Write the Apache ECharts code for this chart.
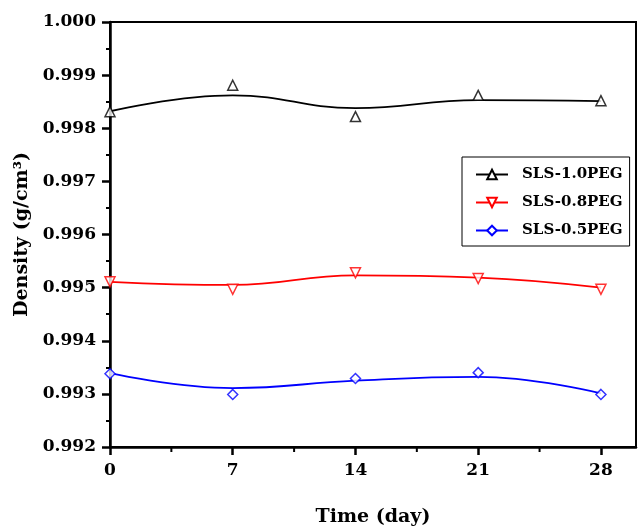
<!DOCTYPE html>
<html>
<head>
<meta charset="utf-8">
<script src="https://cdn.jsdelivr.net/npm/echarts@6/dist/echarts.min.js"></script>
<style>html,body{margin:0;padding:0;background:#fff}#c{width:638px;height:529px}</style>
</head>
<body>
<div id="c"></div>
<script>
// Sampling times (day)
const days = [0, 7, 14, 21, 28];
const xTicks = [0, 7, 14, 21, 28];
const xMinorTicks = [3.5, 10.5, 17.5, 24.5];
const seriesNames = ['SLS-1.0PEG', 'SLS-0.8PEG', 'SLS-0.5PEG'];
// Measured densities (markers)
const pts10 = [0.99831, 0.99881, 0.99822, 0.99862, 0.99852];
const pts08 = [0.99511, 0.99497, 0.99528, 0.99517, 0.99497];
const pts05 = [0.99338, 0.99299, 0.99329, 0.99340, 0.99299];
// Smoothed fit curve values read at the same days
const fit10 = [0.99832, 0.99862, 0.99838, 0.99853, 0.99851];
const fit08 = [0.99511, 0.99505, 0.99523, 0.99519, 0.99500];
const fit05 = [0.99339, 0.99311, 0.99325, 0.99332, 0.99301];

const FONT = 'DejaVu Serif';
const downTri = 'path://M0,0 L10,0 L5,9 Z';
const upTri = 'path://M5,0 L10,9 L0,9 Z';
const pair = (xs, ys) => xs.map((x, i) => [x, ys[i]]);

const defs = [
  {name: seriesNames[0], color: '#000000', fit: fit10, pts: pts10, symbol: upTri},
  {name: seriesNames[1], color: '#ff0000', fit: fit08, pts: pts08, symbol: downTri},
  {name: seriesNames[2], color: '#0000ff', fit: fit05, pts: pts05, symbol: 'diamond'}
];

const series = [];
defs.forEach(d => {
  series.push({
    name: d.name, type: 'line', smooth: 0.45, data: pair(days, d.fit),
    symbol: d.symbol, showSymbol: false, symbolSize: 10,
    lineStyle: {color: d.color, width: 1.8},
    itemStyle: {color: '#fff', borderColor: d.color, borderWidth: 1.5},
    emphasis: {disabled: true}, z: 2
  });
  series.push({
    name: d.name + ' pts', type: 'scatter', data: pair(days, d.pts),
    symbol: d.symbol, symbolSize: 10,
    itemStyle: {color: '#fff', borderColor: d.color, borderWidth: 1.5},
    emphasis: {disabled: true}, z: 3
  });
});

const chart = echarts.init(document.getElementById('c'), null, {renderer: 'canvas'});
chart.setOption({
  animation: false,
  backgroundColor: '#fff',
  grid: {left: 110, right: 2, top: 22, bottom: 82, show: true, borderColor: '#000', borderWidth: 2,
    containLabel: false, outerBoundsMode: 'none'},
  legend: {
    data: seriesNames, orient: 'vertical', left: 462, top: 157,
    padding: [10, 7, 8, 13], itemGap: 13,
    itemWidth: 32, itemHeight: 12,
    borderColor: '#000', borderWidth: 1,
    textStyle: {fontFamily: FONT, fontWeight: 'bold', fontSize: 15, color: '#000', padding: [0, 0, 0, 9]}
  },
  xAxis: {
    type: 'value', min: 0, max: 30, interval: 7,
    name: 'Time (day)', nameLocation: 'middle', nameGap: 61,
    nameTextStyle: {fontFamily: FONT, fontWeight: 'bold', fontSize: 19, color: '#000'},
    axisLine: {show: true, lineStyle: {color: '#000', width: 2.5}},
    axisTick: {show: true, inside: false, length: 8, lineStyle: {color: '#000', width: 2.5}, customValues: xTicks},
    axisLabel: {margin: 15, fontFamily: FONT, fontWeight: 'bold', fontSize: 17, color: '#000', customValues: xTicks},
    splitLine: {show: false}
  },
  yAxis: {
    type: 'value', min: 0.992, max: 1.000, interval: 0.001,
    name: 'Density (g/cm³)', nameLocation: 'middle', nameGap: 78, nameRotate: 90,
    nameTextStyle: {fontFamily: FONT, fontWeight: 'bold', fontSize: 19, color: '#000'},
    axisLine: {show: true, lineStyle: {color: '#000', width: 2.5}},
    axisTick: {show: true, inside: false, length: 8, lineStyle: {color: '#000', width: 2.5}},
    minorTick: {show: true, splitNumber: 2, length: 4, lineStyle: {color: '#000', width: 2}},
    axisLabel: {margin: 14, fontFamily: FONT, fontWeight: 'bold', fontSize: 17, color: '#000',
      formatter: v => v.toFixed(3)},
    splitLine: {show: false}, minorSplitLine: {show: false}
  },
  series: series
});

// Minor ticks on the x axis, placed through the axis scale
const yBase = chart.convertToPixel({yAxisIndex: 0}, 0.992);
chart.setOption({
  graphic: xMinorTicks.map(v => {
    const px = chart.convertToPixel({xAxisIndex: 0}, v);
    return {type: 'line', silent: true, z: 10,
      shape: {x1: px, y1: yBase, x2: px, y2: yBase + 5},
      style: {stroke: '#000', lineWidth: 2}};
  })
});
</script>
</body>
</html>
